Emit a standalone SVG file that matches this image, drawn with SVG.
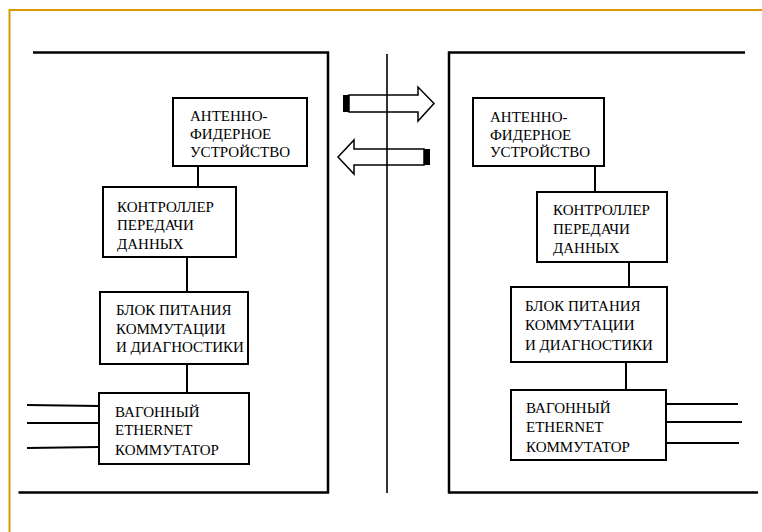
<svg xmlns="http://www.w3.org/2000/svg" width="762" height="532" viewBox="0 0 762 532">
<style>
.box{fill:#fff;stroke:#000;stroke-width:2}
.t{font-family:"Liberation Serif","Times New Roman",serif;font-size:15px;fill:#000}
.ln{stroke:#000;stroke-width:2;fill:none}
.br{stroke:#000;stroke-width:2.5;fill:none}
.arr{fill:none;stroke:#000;stroke-width:1.5}
</style>
<rect width="762" height="532" fill="#fff"/>
<path d="M9.5 540 V10 H770" fill="none" stroke="#D99A06" stroke-width="2"/>
<g id="frames">
<path class="br" d="M33 52.5 H328 V492.5 H18.5"/>
<path class="br" d="M745 52.5 H449 V492.5 H758"/>
<line x1="387" y1="54" x2="387" y2="493" stroke="#000" stroke-width="1.6"/>
</g>
<g id="arrows">
<polygon class="arr" points="349,95 418,95 418,87 434,103.5 418,121 418,112 349,112"/>
<rect x="343" y="95" width="6" height="17" fill="#000"/>
<polygon class="arr" points="424,149 354,149 354,140 338,157 354,174 354,165 424,165"/>
<rect x="424" y="149" width="6" height="16" fill="#000"/>
</g>
<g id="connectors">
<line class="ln" x1="198" y1="166" x2="198" y2="187"/>
<line class="ln" x1="187" y1="257" x2="187" y2="292"/>
<line class="ln" x1="187" y1="364" x2="187" y2="393"/>
<line class="ln" x1="27" y1="405" x2="99" y2="406"/>
<line class="ln" x1="27" y1="423" x2="99" y2="423"/>
<line class="ln" x1="27" y1="448" x2="99" y2="447"/>
<line class="ln" x1="595" y1="166" x2="595" y2="192"/>
<line class="ln" x1="629" y1="262" x2="629" y2="287"/>
<line class="ln" x1="626" y1="362" x2="626" y2="390"/>
<line class="ln" x1="666" y1="404" x2="738" y2="404"/>
<line class="ln" x1="666" y1="422" x2="742" y2="422"/>
<line class="ln" x1="666" y1="443" x2="739" y2="443"/>
</g>
<g id="L1"><rect class="box" x="173" y="98" width="134" height="68"/>
<text class="t"><tspan x="190" y="121">АНТЕННО-</tspan><tspan x="190" y="139">ФИДЕРНОЕ</tspan><tspan x="190" y="157">УСТРОЙСТВО</tspan></text></g>
<g id="L2"><rect class="box" x="103" y="187" width="133" height="70"/>
<text class="t"><tspan x="117" y="212">КОНТРОЛЛЕР</tspan><tspan x="117" y="230">ПЕРЕДАЧИ</tspan><tspan x="117" y="249">ДАННЫХ</tspan></text></g>
<g id="L3"><rect class="box" x="100" y="292" width="148" height="72"/>
<text class="t"><tspan x="116" y="315">БЛОК ПИТАНИЯ</tspan><tspan x="116" y="334">КОММУТАЦИИ</tspan><tspan x="116" y="352">И ДИАГНОСТИКИ</tspan></text></g>
<g id="L4"><rect class="box" x="99" y="393" width="150" height="71"/>
<text class="t"><tspan x="115" y="417">ВАГОННЫЙ</tspan><tspan x="115" y="435">ETHERNET</tspan><tspan x="115" y="455">КОММУТАТОР</tspan></text></g>
<g id="R1"><rect class="box" x="473" y="98" width="131" height="68"/>
<text class="t"><tspan x="490" y="122">АНТЕННО-</tspan><tspan x="490" y="140">ФИДЕРНОЕ</tspan><tspan x="490" y="157">УСТРОЙСТВО</tspan></text></g>
<g id="R2"><rect class="box" x="537" y="192" width="130" height="70"/>
<text class="t"><tspan x="553" y="215">КОНТРОЛЛЕР</tspan><tspan x="553" y="234">ПЕРЕДАЧИ</tspan><tspan x="553" y="253">ДАННЫХ</tspan></text></g>
<g id="R3"><rect class="box" x="511" y="287" width="156" height="75"/>
<text class="t"><tspan x="525" y="311">БЛОК ПИТАНИЯ</tspan><tspan x="525" y="330">КОММУТАЦИИ</tspan><tspan x="525" y="350">И ДИАГНОСТИКИ</tspan></text></g>
<g id="R4"><rect class="box" x="511" y="390" width="155" height="70"/>
<text class="t"><tspan x="526" y="413">ВАГОННЫЙ</tspan><tspan x="526" y="432">ETHERNET</tspan><tspan x="526" y="452">КОММУТАТОР</tspan></text></g>
</svg>
